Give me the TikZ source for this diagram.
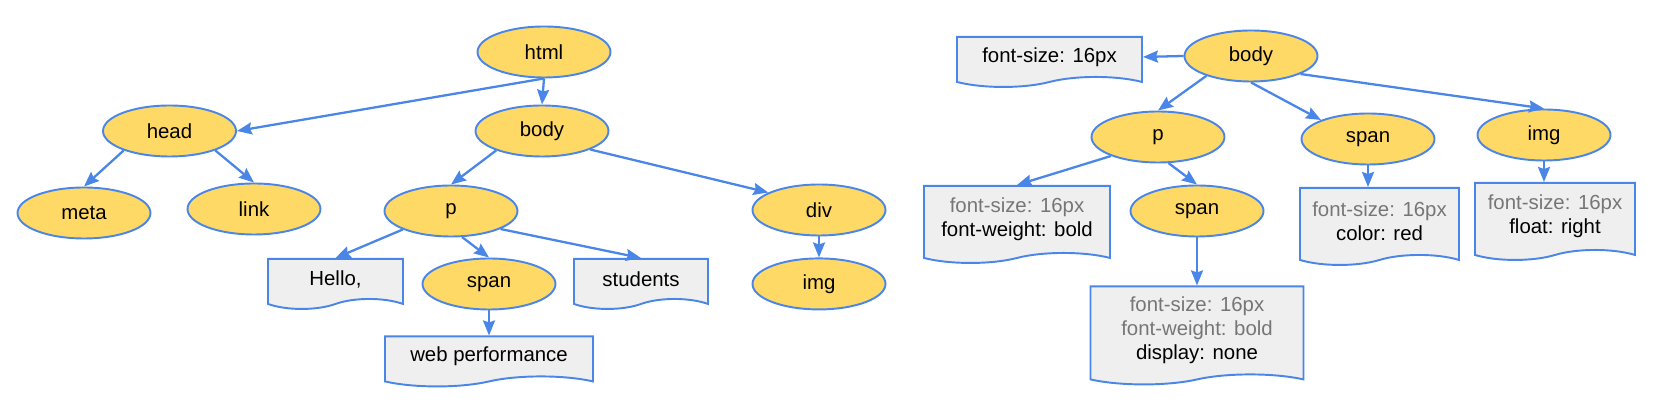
\documentclass[tikz,border=0pt]{standalone}
\usepackage{fontspec}
\setmainfont{Liberation Sans}
\usepackage{xcolor}
\usepackage{tikz}
\usetikzlibrary{arrows.meta, positioning, shapes.geometric, shapes.symbols}
\definecolor{tagfill}{HTML}{FFD966}
\definecolor{tagline}{HTML}{4A86E8}
\definecolor{docfill}{HTML}{EFEFEF}
\definecolor{inherited}{HTML}{767676}

\begin{document}
\begin{tikzpicture}[
    tag/.style={ellipse, draw=tagline, fill=tagfill, line width=1.1pt,
                minimum width=2.66cm, minimum height=1.02cm, inner sep=0pt},
    doc/.style={tape, tape bend top=none, tape bend bottom=in and out,
                tape bend height=0.2cm, draw=tagline, fill=docfill,
                line width=1.1pt, align=center, inner sep=0pt,
                minimum height=1.0cm, anchor=north},
    every node/.append style={font=\fontsize{11.6}{13.6}\selectfont},
    ->, >={Stealth[length=0.3cm, width=0.24cm, inset=0.04cm]}, line width=1.3pt
  ]
  \useasboundingbox (0,0) rectangle (33.24,-8.24);

  % nodes (DOM tree)
  \node[tag] (html) at (10.88,-1.04) {html};
  \node[tag] (head) at (3.39,-2.62) {head};
  \node[tag] (lbody) at (10.84,-2.62) {body};
  \node[tag] (meta) at (1.68,-4.26) {meta};
  \node[tag] (link) at (5.08,-4.18) {link};
  \node[tag] (lp) at (9.02,-4.22) {p};
  \node[tag] (div) at (16.38,-4.20) {div};
  \node[tag, below=0.42cm of div] (limg) {img};
  \node[doc, minimum width=2.70cm] (hello) at (6.71,-5.16) {Hello,};
  \node[tag] (lspan) at (9.78,-5.68) {span};
  \node[doc, minimum width=2.68cm] (students) at (12.82,-5.16) {students};
  \node[doc, minimum width=4.16cm, below=0.5cm of lspan] (webperf) {web performance};

  % nodes (CSSOM tree)
  \node[tag] (rbody) at (25.02,-1.12) {body};
  \node[doc, minimum width=3.70cm] (bodystyle) at (20.99,-0.72) {font-size: 16px};
  \node[tag] (rp) at (23.16,-2.74) {p};
  \node[tag] (rspan) at (27.36,-2.78) {span};
  \node[tag] (rimg) at (30.88,-2.70) {img};
  \node[doc, minimum width=3.72cm, minimum height=1.54cm] (pstyle) at (20.34,-3.70)
    {{\color{inherited}font-size: 16px}\\font-weight: bold};
  \node[tag] (rspan2) at (23.94,-4.22) {span};
  \node[doc, minimum width=3.18cm, minimum height=1.54cm] (spanstyle) at (27.59,-3.74)
    {{\color{inherited}font-size: 16px}\\color: red};
  \node[doc, minimum width=3.20cm, minimum height=1.54cm] (imgstyle) at (31.10,-3.64)
    {{\color{inherited}font-size: 16px}\\float: right};
  \node[doc, minimum width=4.26cm, minimum height=1.96cm, below=0.96cm of rspan2] (span2style)
    {{\color{inherited}font-size: 16px}\\{\color{inherited}font-weight: bold}\\display: none};

  % arcs
  \begin{scope}[color=tagline]
    \draw (html.south) -- (head.east);
    \draw (html.south) -- (lbody.north);
    \draw (head.203) -- (meta.north);
    \draw (head.337) -- (link.north);
    \draw (lbody.203) -- (lp.north);
    \draw (lbody.339) -- (div.161);
    \draw (div.south) -- (limg.north);
    \draw (lp.201) -- (hello.north);
    \draw (lp.293) -- (lspan.north);
    \draw (lp.340) -- (students.north);
    \draw (lspan.south) -- (webperf.north);

    \draw (rbody.west) -- (bodystyle.east);
    \draw (rbody.204) -- (rp.north);
    \draw (rbody.south) -- (rspan.158);
    \draw (rbody.340) -- (rimg.north);
    \draw (rp.202) -- (pstyle.north);
    \draw (rp.292) -- (rspan2.north);
    \draw (rspan.south) -- (rspan.south |- spanstyle.north);
    \draw (rimg.south) -- (rimg.south |- imgstyle.north);
    \draw (rspan2.south) -- (span2style.north);
  \end{scope}
\end{tikzpicture}
\end{document}
